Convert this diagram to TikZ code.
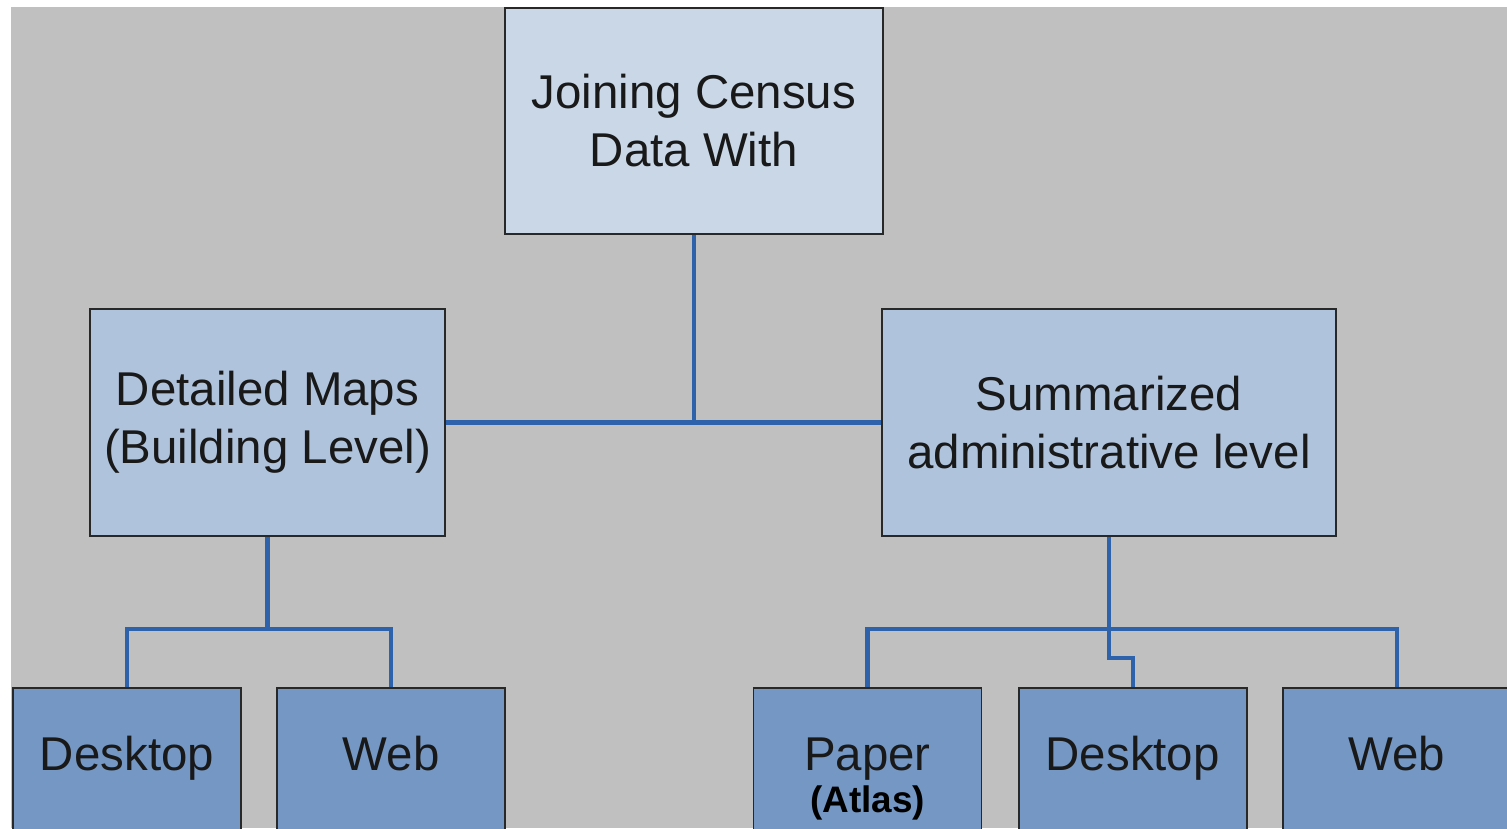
\documentclass[tikz,border=0pt]{standalone}
\usepackage{fontspec}
\setmainfont{Liberation Sans}
\usepackage{tikz}
\usetikzlibrary{positioning}
\definecolor{bggray}{RGB}{192,192,192}
\definecolor{topfill}{RGB}{201,215,231}
\definecolor{midfill}{RGB}{176,195,221}
\definecolor{lowfill}{RGB}{116,151,196}
\definecolor{linkblue}{RGB}{46,98,170}
\definecolor{boxline}{RGB}{40,40,40}
\tikzstyle{box} = [draw=boxline, line width=1pt, rectangle, inner sep=0pt, align=center, text=black!90, font=\fontsize{27}{33}\selectfont]
\tikzstyle{topbox} = [box, fill=topfill, minimum width=7.56cm, minimum height=4.52cm]
\tikzstyle{midbox} = [box, fill=midfill, minimum height=4.54cm]
\tikzstyle{leafbox} = [box, fill=lowfill, minimum width=4.56cm, minimum height=3.04cm, text height=0.93em, text depth=0.21em, anchor=north]
\tikzstyle{atlas} = [inner sep=0pt, text=black, font=\fontsize{21}{24}\selectfont\bfseries]
\tikzstyle{link} = [draw=linkblue, line width=2.3pt]

\begin{document}
\begin{tikzpicture}[x=0.02cm, y=-0.02cm]
    \fill [white] (0,0) rectangle (1507,828);
    \useasboundingbox (0,0) rectangle (1507,828);
    \clip (0,0) rectangle (1507,828);
    \fill [bggray] (11,7) rectangle (1507,828);

    \node [topbox] (census) at (694,121) {Joining Census\\Data With};
    \node [midbox, minimum width=7.1cm] (detailed) at (267.5,422.5) {Detailed Maps\\(Building Level)};
    \node [midbox, minimum width=9.08cm] (summary) at (1109,422.5) {Summarized\\administrative level};

    \node [leafbox] (desk1) at (127,687) {Desktop};
    \node [leafbox, right = 0.69cm of desk1] (web1) {Web};
    \node [leafbox] (paper) at (867.5,687) {Paper};
    \node [leafbox, right = 0.71cm of paper] (desk2) {Desktop};
    \node [leafbox, right = 0.69cm of desk2] (web2) {Web};
    \node [atlas, anchor=base] (atlas) at ([yshift=-0.84cm]paper.base) {(Atlas)};

    \draw [link] (detailed.east) -- (summary.west); % connections
    \draw [link] (census.south) -- (census.south |- detailed.east);
    \draw [link] (detailed.south) -- ++(0,92) coordinate (jl);
    \draw [link] (desk1.north) |- (jl) -| (web1.north);
    \draw [link] (summary.south) -- ++(0,92) coordinate (jr) -- ++(0,29) -| (desk2.north);
    \draw [link] (paper.north) |- (jr) -| (web2.north);
\end{tikzpicture}
\end{document}
